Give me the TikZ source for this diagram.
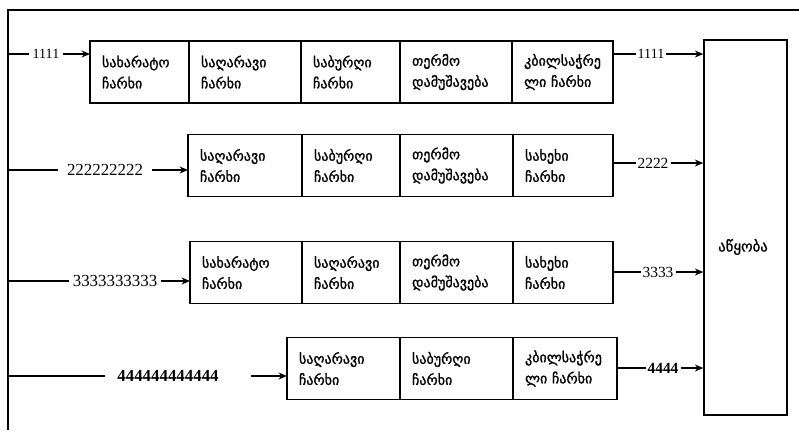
\documentclass[tikz,border=0pt]{standalone}
\usepackage{fontspec}
\setmainfont{Liberation Serif}
\newfontfamily\geofont[FakeBold=1.2]{DejaVu Sans}
\usetikzlibrary{positioning,arrows.meta}

\begin{document}
\begin{tikzpicture}[
    x=0.025cm, y=-0.025cm,
    >={Stealth[length=6pt,width=5pt]},
    line width=0.9pt,
    % boxes of the machine chain
    cell/.style={draw, line width=1pt, outer sep=0pt, inner xsep=0.3cm,
        minimum height=1.55cm, text width=#1, align=left,
        font=\geofont\fontsize{10}{15}\selectfont},
    inLabel/.style={font=\fontsize{12}{14}\selectfont, inner xsep=2pt, inner ysep=0pt},
    outLabel/.style={font=\fontsize{11}{13}\selectfont, inner xsep=1pt, inner ysep=0pt}
]
    \useasboundingbox (0,0) rectangle (799,430);

    % --- FRAME ---
    \draw (799,10) -- (8,10) -- (8,430);

    % --- ASSEMBLY BOX ---
    \node[draw, line width=1pt, minimum width=2.075cm, minimum height=9.375cm] (assembly) at (745.5,227.5) {};
    \node[font=\geofont\fontsize{10.5}{12}\selectfont] (asmLabel) at (743,247) {აწყობა};

    % --- ROW 1 ---
    \node[cell=1.875cm, anchor=west] (cellA1) at (90,72) {სახარატო\\ჩარხი};
    \node[cell=2.2cm, right=0pt of cellA1] (cellA2) {საღარავი\\ჩარხი};
    \node[cell=1.875cm, right=0pt of cellA2] (cellA3) {საბურღი\\ჩარხი};
    \node[cell=2.2cm, right=0pt of cellA3] (cellA4) {თერმო\\დამუშავება};
    \node[cell=1.925cm, right=0pt of cellA4] (cellA5) {კბილსაჭრე\\ლი ჩარხი};

    \coordinate (busA) at (8,54);
    \node[inLabel, font=\fontsize{10}{12}\selectfont] (inA) at (46,54) {1111};
    \node[outLabel, font=\fontsize{10}{12}\selectfont] (outA) at (651,54) {1111};
    \draw (busA) -- (inA.west);
    \draw[->] (inA.east) -- (inA -| cellA1.west);
    \draw (outA -| cellA5.east) -- (outA.west);
    \draw[->] (outA.east) -- (outA -| assembly.west);

    % --- ROW 2 ---
    \node[cell=2.25cm, anchor=west] (cellB1) at (188,165.5) {საღარავი\\ჩარხი};
    \node[cell=1.85cm, right=0pt of cellB1] (cellB2) {საბურღი\\ჩარხი};
    \node[cell=2.225cm, right=0pt of cellB2] (cellB3) {თერმო\\დამუშავება};
    \node[cell=1.9cm, right=0pt of cellB3] (cellB4) {სახეხი\\ჩარხი};

    \coordinate (busB) at (8,170);
    \node[inLabel, inner xsep=6pt] (inB) at (105,170) {222222222};
    \node[outLabel] (outB) at (653,163) {2222};
    \draw (busB) -- (inB.west);
    \draw[->] (inB.east) -- (inB -| cellB1.west);
    \draw (outB -| cellB4.east) -- (outB.west);
    \draw[->] (outB.east) -- (outB -| assembly.west);

    % --- ROW 3 ---
    \node[cell=2.2cm, anchor=west] (cellC1) at (190,272.5) {სახარატო\\ჩარხი};
    \node[cell=1.85cm, right=0pt of cellC1] (cellC2) {საღარავი\\ჩარხი};
    \node[cell=2.225cm, right=0pt of cellC2] (cellC3) {თერმო\\დამუშავება};
    \node[cell=1.9cm, right=0pt of cellC3] (cellC4) {სახეხი\\ჩარხი};

    \coordinate (busC) at (8,281);
    \node[inLabel] (inC) at (115,281) {3333333333};
    \node[outLabel] (outC) at (658,272) {3333};
    \draw (busC) -- (inC.west);
    \draw[->] (inC.east) -- (inC -| cellC1.west);
    \draw (outC -| cellC4.east) -- (outC.west);
    \draw[->] (outC.east) -- (outC -| assembly.west);

    % --- ROW 4 ---
    \node[cell=2.225cm, anchor=west] (cellD1) at (287,368.5) {საღარავი\\ჩარხი};
    \node[cell=2.225cm, right=0pt of cellD1] (cellD2) {საბურღი\\ჩარხი};
    \node[cell=2.0cm, right=0pt of cellD2] (cellD3) {კბილსაჭრე\\ლი ჩარხი};

    \coordinate (busD) at (8,376);
    \coordinate (tailD) at (251,376);
    \node[inLabel, font=\bfseries\fontsize{12}{14}\selectfont, inner xsep=8pt] (inD) at (168,376) {444444444444};
    \node[outLabel, font=\bfseries\fontsize{11}{13}\selectfont] (outD) at (663,368) {4444};
    \draw (busD) -- (inD.west);
    \draw[->] (tailD) -- (tailD -| cellD1.west);
    \draw (outD -| cellD3.east) -- (outD.west);
    \draw[->] (outD.east) -- (outD -| assembly.west);

\end{tikzpicture}
\end{document}
